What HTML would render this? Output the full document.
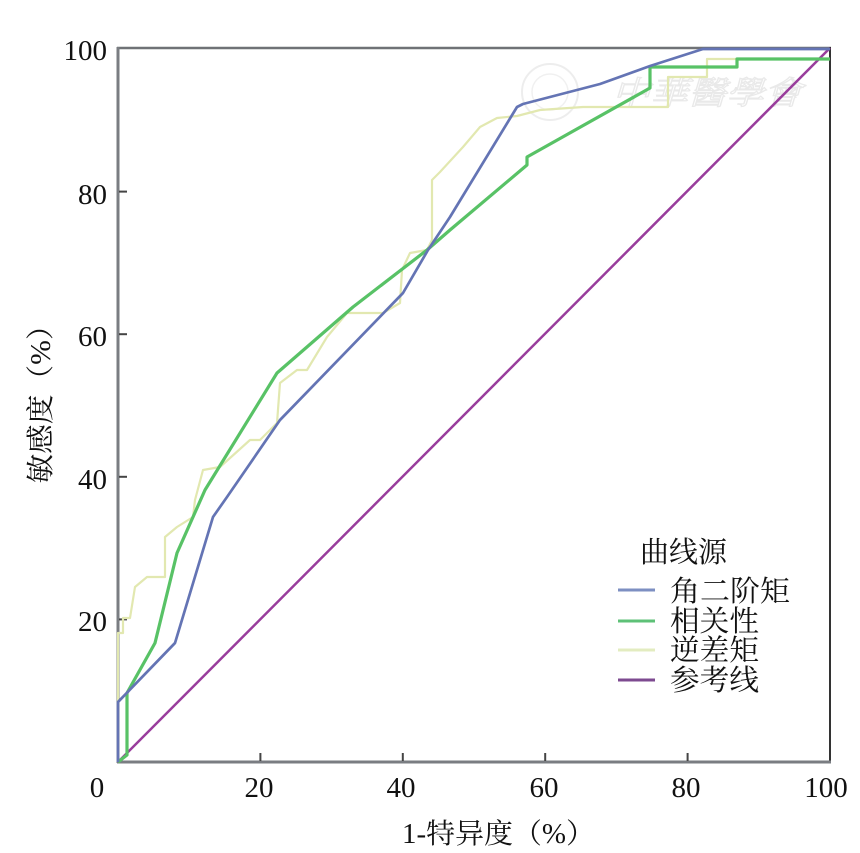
<!DOCTYPE html>
<html>
<head>
<meta charset="utf-8">
<style>
  html, body { margin: 0; padding: 0; background: #ffffff; }
  body { width: 860px; height: 853px; overflow: hidden; }
  svg { display: block; }
  .num { font-family: "Liberation Serif", "Noto Serif CJK SC", serif; font-size: 29px; fill: #111; }
  .cjk { font-family: "Liberation Serif", "Noto Serif CJK SC", serif; fill: #111; }
</style>
</head>
<body>
<svg width="860" height="853" viewBox="0 0 860 853" xmlns="http://www.w3.org/2000/svg">
  <rect x="0" y="0" width="860" height="853" fill="#ffffff"/>

  <!-- watermark -->
  <g opacity="0.45">
    <circle cx="550" cy="92" r="28" fill="none" stroke="#d8d8d8" stroke-width="2"/>
    <circle cx="550" cy="92" r="18" fill="none" stroke="#e0e0e0" stroke-width="1.5"/>
    <text x="612" y="104" class="cjk" font-size="32" style="fill:#ffffff;stroke:#d0d0d0;stroke-width:1.2;font-style:italic" textLength="190" lengthAdjust="spacingAndGlyphs">中華醫學會</text>
  </g>

  <!-- frame -->
  <line x1="117" y1="48" x2="831" y2="48" stroke="#6f7276" stroke-width="2.5"/>
  <line x1="830" y1="47" x2="830" y2="763" stroke="#333" stroke-width="2"/>
  <line x1="118" y1="47" x2="118" y2="763" stroke="#7a7d82" stroke-width="3"/>
  <line x1="117" y1="762" x2="831" y2="762" stroke="#7a7d82" stroke-width="3"/>

  <!-- y ticks -->
  <g stroke="#444" stroke-width="2">
    <line x1="119" y1="191.6" x2="127" y2="191.6"/>
    <line x1="119" y1="334.2" x2="127" y2="334.2"/>
    <line x1="119" y1="476.8" x2="127" y2="476.8"/>
    <line x1="119" y1="619.4" x2="127" y2="619.4"/>
  </g>
  <!-- x ticks -->
  <g stroke="#444" stroke-width="2">
    <line x1="260.4" y1="761" x2="260.4" y2="753"/>
    <line x1="402.8" y1="761" x2="402.8" y2="753"/>
    <line x1="545.2" y1="761" x2="545.2" y2="753"/>
    <line x1="687.6" y1="761" x2="687.6" y2="753"/>
  </g>

  <!-- y tick labels -->
  <g class="num" text-anchor="end">
    <text x="107" y="60">100</text>
    <text x="107" y="204">80</text>
    <text x="107" y="346">60</text>
    <text x="107" y="489">40</text>
    <text x="107" y="631">20</text>
  </g>
  <!-- x tick labels -->
  <g class="num" text-anchor="middle">
    <text x="97" y="797">0</text>
    <text x="259" y="797">20</text>
    <text x="401" y="797">40</text>
    <text x="544" y="797">60</text>
    <text x="686" y="797">80</text>
    <text x="826" y="797">100</text>
  </g>

  <!-- axis titles -->
  <text x="402" y="843" class="cjk" font-size="28" textLength="193" lengthAdjust="spacingAndGlyphs">1-特异度（%）</text>
  <text transform="translate(50,397) rotate(-90)" class="cjk" font-size="28" text-anchor="middle" textLength="173" lengthAdjust="spacingAndGlyphs">敏感度（%）</text>

  <!-- reference line -->
  <line x1="118" y1="762" x2="830" y2="48" stroke="#993d9c" stroke-width="2.5"/>

  <!-- 逆差矩 (light) -->
  <polyline fill="none" stroke="#e2e8b0" stroke-width="2.2" stroke-linejoin="round"
    points="118,762 118,633 123,633 123,618 130,618 135,587 147,577 165,577 165,537 177,527 193,517 195,500 203,470 220,467 250,440 260,440 277,423 280,383 297,370 307,370 327,337 347,313 383,313 400,303 402,270 410,253 427,250 432,240 432,180 440,172 463,147 480,127 497,118 517,116 540,110 583,107 668,107 668,77 707,77 707,59 737,59 830,59"/>

  <!-- 相关性 (green) -->
  <polyline fill="none" stroke="#58c266" stroke-width="3.2" stroke-linejoin="round"
    points="118,762 127,755 127,693 155,643 177,553 205,490 277,373 353,307 427,250 450,230 527,165 527,157 650,88 650,67 737,67 737,59 830,59"/>

  <!-- 角二阶矩 (blue) -->
  <polyline fill="none" stroke="#6474b4" stroke-width="2.7" stroke-linejoin="round"
    points="118,762 118,702 175,643 213,517 227,497 280,420 403,293 428,250 450,217 517,107 523,104 600,84 650,66 703,49 830,49"/>

  <!-- legend -->
  <text x="640" y="562" class="cjk" font-size="29">曲线源</text>
  <line x1="618" y1="590" x2="655" y2="590" stroke="#7d8fc2" stroke-width="3"/>
  <line x1="618" y1="621" x2="655" y2="621" stroke="#5ec177" stroke-width="3"/>
  <line x1="618" y1="650" x2="655" y2="650" stroke="#e3ecc0" stroke-width="3"/>
  <line x1="618" y1="680" x2="655" y2="680" stroke="#7d4a90" stroke-width="3"/>
  <g class="cjk" font-size="29">
    <text x="670" y="601" textLength="120" lengthAdjust="spacingAndGlyphs">角二阶矩</text>
    <text x="670" y="631" textLength="89" lengthAdjust="spacingAndGlyphs">相关性</text>
    <text x="670" y="660" textLength="89" lengthAdjust="spacingAndGlyphs">逆差矩</text>
    <text x="670" y="690" textLength="89" lengthAdjust="spacingAndGlyphs">参考线</text>
  </g>
</svg>
</body>
</html>
